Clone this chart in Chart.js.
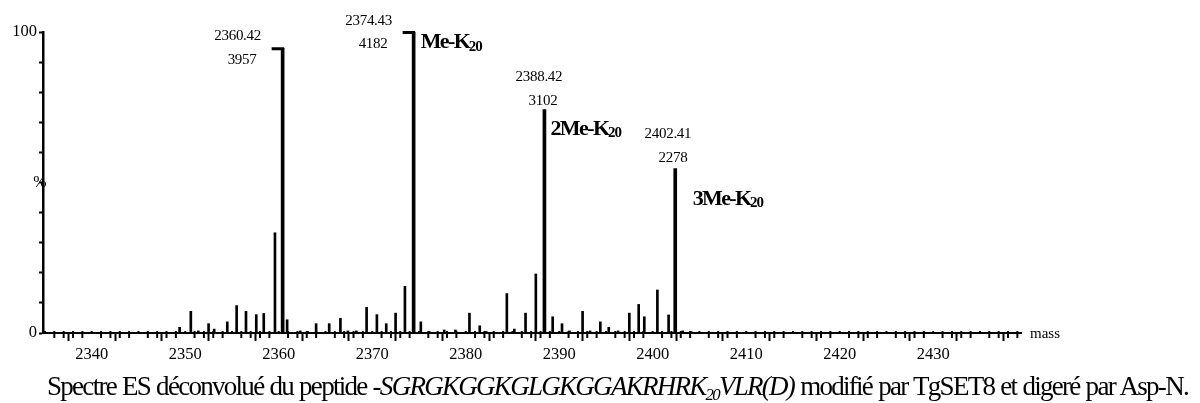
<!DOCTYPE html>
<html><head><meta charset="utf-8">
<script src="https://cdn.jsdelivr.net/npm/chart.js@4.4.0/dist/chart.umd.min.js"></script>
<style>
html,body{margin:0;padding:0;background:#fff;}
#wrap{position:relative;width:1200px;height:403px;overflow:hidden;background:#fff;}
#c{position:absolute;left:0;top:0;}
#cap{position:absolute;left:47px;top:373px;font-family:"Liberation Serif","Times New Roman",serif;font-size:27px;line-height:27px;word-spacing:1px;white-space:nowrap;color:#000;}
#cap i{font-style:italic;}
.sb{font-size:0.62em;position:relative;top:0.28em;}
</style></head><body>
<div id="wrap"><canvas id="c" width="1200" height="403"></canvas>
<div id="cap">Spectre ES déconvolué du peptide -<i>SGRGKGGKGLGKGGAKRHRK<span class="sb">20</span>VLR(D)</i> modifié par TgSET8 et digeré par Asp-N.</div></div>
<script>
// ---- data ----
const minorMasses = [2349.4, 2350.6, 2351.4, 2352.5, 2353.1, 2354.5, 2355.5, 2356.5, 2357.6, 2358.4,
  2359.6, 2360.9, 2362.3, 2363.1, 2364.0, 2365.4, 2366.6, 2367.4, 2368.3, 2369.4,
  2370.5, 2371.5, 2372.5, 2373.5, 2375.2, 2376.1, 2377.7, 2378.9, 2380.4, 2381.5,
  2382.2, 2384.4, 2385.2, 2386.4, 2387.5, 2389.3, 2390.3, 2391.1, 2392.5, 2393.3,
  2394.4, 2395.3, 2396.3, 2397.5, 2398.5, 2399.1, 2400.5, 2401.7, 2403.2, 2404.1];
const minorIntensity = [1.9, 7.2, 0.7, 3.1, 1.3, 3.7, 9.1, 7.2, 6.1, 6.5,
  33.3, 4.4, 0.7, 0.5, 3.1, 3.1, 4.9, 0.7, 0.7, 8.5,
  6.1, 3.1, 6.6, 15.5, 3.7, 0.5, 1.0, 1.0, 6.6, 2.4,
  0.5, 13.1, 1.3, 6.6, 19.6, 5.4, 3.1, 0.7, 7.2, 0.7,
  3.7, 1.9, 0.7, 6.6, 9.5, 5.4, 14.3, 6.0, 0.7, 0.5];
const peakMasses = [2360.42, 2374.43, 2388.42, 2402.41];
const peakIntensity = [94.6, 100, 74.2, 54.6];
const peakCounts = ['3957', '4182', '3102', '2278'];
const peakNames = ['', 'Me-K', '2Me-K', '3Me-K'];
const peakNameSub = '20';
const xTickLabels = [2340, 2350, 2360, 2370, 2380, 2390, 2400, 2410, 2420, 2430];
const yTickLabels = [0, 100];
const xAxisTitle = 'mass';
const yAxisTitle = '%';

// ---- styling (pixel offsets of the annotations relative to each peak top) ----
const massLabelOffset = [[-45, -8.6], [-45, -7.3], [-5.5, -29], [-7.3, -30.2]];
const countLabelOffset = [[-40.6, 15.4], [-40.6, 16], [-1.5, -5], [-2.3, -6.5]];
const nameLabelOffset = [null, [7, 16], [6, 25], [17.4, 36]];
const capPeaks = [true, true, false, false];
const SERIF = '"Liberation Serif","Times New Roman",serif';

const annot = {
  id: 'annot',
  afterDraw(chart) {
    const {ctx, scales: {x, y}} = chart;
    const y0 = y.getPixelForValue(0);
    ctx.save();
    ctx.strokeStyle = '#000';
    ctx.fillStyle = '#000';
    // minor ticks
    ctx.lineWidth = 2;
    for (let v = Math.ceil(x.min); v <= x.max; v++) {
      if (v % 5 === 0) continue;
      const px = x.getPixelForValue(v);
      ctx.beginPath(); ctx.moveTo(px, y0 - 2); ctx.lineTo(px, y0 + 5); ctx.stroke();
    }
    // major ticks slightly above axis too
    for (let v = Math.ceil(x.min / 5) * 5; v <= x.max; v += 5) {
      const px = x.getPixelForValue(v);
      ctx.beginPath(); ctx.moveTo(px, y0 - 2); ctx.lineTo(px, y0 + 1); ctx.stroke();
    }
    // peak annotations
    for (let i = 0; i < peakMasses.length; i++) {
      const px = x.getPixelForValue(peakMasses[i]);
      const py = y.getPixelForValue(peakIntensity[i]);
      if (capPeaks[i]) {
        ctx.lineWidth = 3;
        ctx.beginPath(); ctx.moveTo(px - 11, py + 0.5); ctx.lineTo(px + 1.5, py + 0.5); ctx.stroke();
      }
      ctx.font = '15px ' + SERIF;
      ctx.textAlign = 'center';
      ctx.textBaseline = 'alphabetic';
      ctx.letterSpacing = '-0.3px';
      ctx.fillText(peakMasses[i].toFixed(2), px + massLabelOffset[i][0], py + massLabelOffset[i][1]);
      ctx.fillText(peakCounts[i], px + countLabelOffset[i][0], py + countLabelOffset[i][1]);
      if (peakNames[i]) {
        const nx = px + nameLabelOffset[i][0], ny = py + nameLabelOffset[i][1];
        ctx.textAlign = 'left';
        ctx.font = 'bold 22px ' + SERIF;
        ctx.letterSpacing = '-1.6px';
        ctx.fillText(peakNames[i], nx, ny);
        const w = ctx.measureText(peakNames[i]).width;
        ctx.font = 'bold 15px ' + SERIF;
        ctx.letterSpacing = '-1px';
        ctx.fillText(peakNameSub, nx + w - 0.5, ny + 2.5);
      }
    }
    ctx.letterSpacing = '0px';
    // axis titles
    ctx.font = '15px ' + SERIF;
    ctx.textAlign = 'left';
    ctx.fillText(xAxisTitle, x.right + 9, y0 + 5);
    ctx.font = '16px ' + SERIF;
    ctx.textAlign = 'center';
    ctx.textBaseline = 'middle';
    ctx.fillText(yAxisTitle, x.left - 3, y.getPixelForValue(50));
    ctx.restore();
  }
};

new Chart(document.getElementById('c'), {
  type: 'bar',
  data: {
    datasets: [
      {
        data: minorMasses.map((m, i) => ({x: m, y: minorIntensity[i]})),
        backgroundColor: '#000', barThickness: 2, grouped: false
      },
      {
        data: peakMasses.map((m, i) => ({x: m, y: peakIntensity[i]})),
        backgroundColor: '#000', barThickness: 3, grouped: false
      }
    ]
  },
  options: {
    responsive: false,
    animation: false,
    devicePixelRatio: 1,
    layout: {padding: {left: 0, top: 32, right: 179, bottom: 0}},
    plugins: {legend: {display: false}, tooltip: {enabled: false}},
    scales: {
      x: {
        type: 'linear', offset: false,
        min: 2334.79, max: 2439.39,
        afterFit(s) { s.height = 70; },
        grid: {drawOnChartArea: false, drawTicks: true, tickLength: 8, tickWidth: 2, tickColor: '#000'},
        border: {display: true, color: '#000', width: 2},
        ticks: {
          stepSize: 5, autoSkip: false, maxRotation: 0, includeBounds: false, padding: 4,
          color: '#000', font: {family: SERIF, size: 16.5},
          callback: v => xTickLabels.includes(v) ? String(v) : ''
        }
      },
      y: {
        min: 0, max: 100,
        afterFit(s) { s.width = 43; },
        grid: {drawOnChartArea: false, drawTicks: true, tickLength: 4, tickWidth: 2, tickColor: '#000'},
        border: {display: true, color: '#000', width: 2.5},
        ticks: {
          stepSize: 10, autoSkip: false, padding: 2,
          color: '#000', font: {family: SERIF, size: 16.5},
          callback: v => yTickLabels.includes(v) ? String(v) : ''
        }
      }
    }
  },
  plugins: [annot]
});

// fit caption to the reference width
const cap = document.getElementById('cap');
const target = 1141;
const w0 = cap.getBoundingClientRect().width;
const n = cap.textContent.length;
cap.style.letterSpacing = ((target - w0) / n).toFixed(3) + 'px';
</script>
</body></html>
